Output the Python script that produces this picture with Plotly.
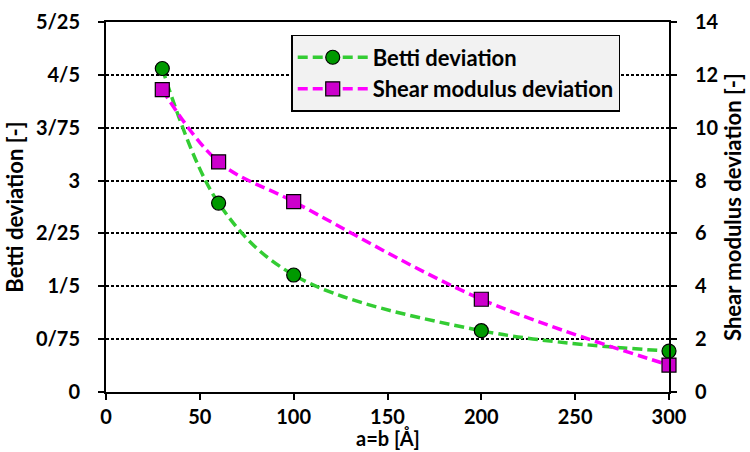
import plotly.graph_objects as go

# Cell size a=b in angstrom
cell_size = [30, 60, 100, 200, 300]
# Deviation series
betti_dev = [4.59, 2.68, 1.66, 0.87, 0.58]
shear_dev = [11.44, 8.71, 7.20, 3.51, 1.02]

# Left axis ticks (slash used as the decimal separator)
left_tickvals = [0, 0.75, 1.5, 2.25, 3, 3.75, 4.5, 5.25]
left_ticktext = ["0", "0/75", "1/5", "2/25", "3", "3/75", "4/5", "5/25"]
right_tickvals = [0, 2, 4, 6, 8, 10, 12, 14]
x_tickvals = [0, 50, 100, 150, 200, 250, 300]

FONT = "Lato"

fig = go.Figure()
fig.add_trace(go.Scatter(
    x=cell_size, y=betti_dev, name="Betti deviation", yaxis="y",
    mode="lines+markers",
    line=dict(color="#33cc33", width=3.5, dash="10px,5px", shape="spline", smoothing=1.0),
    marker=dict(symbol="circle", size=14, color="#009900", line=dict(color="black", width=1.2)),
    cliponaxis=False,
))
fig.add_trace(go.Scatter(
    x=cell_size, y=shear_dev, name="Shear modulus deviation", yaxis="y2",
    mode="lines+markers",
    line=dict(color="#ff00ff", width=3.5, dash="10px,5px", shape="spline", smoothing=1.0),
    marker=dict(symbol="square", size=14, color="#cc00cc", line=dict(color="black", width=1.2)),
    cliponaxis=False,
))

tick_font = dict(family=FONT, size=20, color="black", weight="bold")
title_font = dict(family=FONT, size=22, color="black", weight="bold")

fig.update_layout(
    width=750, height=452,
    margin=dict(l=106, r=81, t=22, b=60),
    paper_bgcolor="white", plot_bgcolor="white",
    font=dict(family=FONT, size=20, color="black", weight="bold"),
    showlegend=True,
    legend=dict(
        x=0.329, y=0.965, xanchor="left", yanchor="top",
        bgcolor="#f2f2f2", bordercolor="black", borderwidth=1.5,
        font=dict(family=FONT, size=22, color="black", weight="bold"),
        itemwidth=70, tracegroupgap=0,
    ),
    xaxis=dict(
        range=[0, 300], tickvals=x_tickvals, showgrid=False, zeroline=False,
        showline=True, linecolor="black", linewidth=2, mirror=True,
        ticks="outside", ticklen=6, tickwidth=1.5, tickcolor="black",
        ticklabelstandoff=0, tickfont=tick_font, automargin=False,
    ),
    yaxis=dict(
        range=[0, 5.25], tickvals=left_tickvals, ticktext=left_ticktext,
        showgrid=True, gridcolor="black", gridwidth=2.2, griddash="2.5px,2.5px",
        zeroline=False, showline=True, linecolor="black", linewidth=2,
        ticks="outside", ticklen=6, tickwidth=1.5, tickcolor="black",
        ticklabelstandoff=14, tickfont=tick_font, automargin=False,
        title=dict(text="Betti deviation [-]", font=title_font, standoff=6),
    ),
    yaxis2=dict(
        range=[0, 14], tickvals=right_tickvals, overlaying="y", side="right",
        showgrid=False, zeroline=False, showline=True, linecolor="black", linewidth=2,
        ticks="outside", ticklen=6, tickwidth=1.5, tickcolor="black",
        ticklabelstandoff=14, tickfont=tick_font, automargin=False,
        title=dict(text="Shear modulus deviation [-]", font=title_font, standoff=6),
    ),
    annotations=[dict(
        text="a=b [Å]", xref="paper", yref="paper", x=0.5, y=-0.1605,
        xanchor="center", yanchor="bottom", showarrow=False, borderpad=0,
        font=dict(family=FONT, size=20, color="black", weight="bold"),
    )],
)

fig.write_html("out.html")
